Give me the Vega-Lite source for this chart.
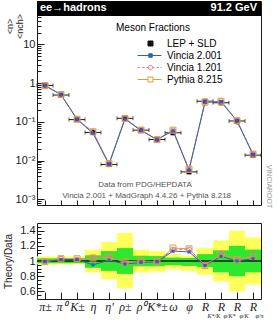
{
  "$schema": "https://vega.github.io/schema/vega-lite/v6.json",
  "padding": {"left": 2, "top": 0, "right": 0, "bottom": 0},
  "background": "white",
  "config": {
    "view": {"stroke": "#1a1a1a", "strokeWidth": 1},
    "font": "Liberation Sans",
    "axis": {"grid": false, "domain": false, "zindex": 1, "tickColor": "#1a1a1a", "tickWidth": 1, "labelColor": "#1a1a1a", "labelFont": "Liberation Sans", "titleFont": "Liberation Sans", "titleFontWeight": "normal", "titleColor": "#1a1a1a", "labelFlush": false, "labelOverlap": false}
  },
  "datasets": {
    "bins": [
      {"i": 1, "xlo": 0.5, "xhi": 1.5, "data": 0.87, "lo": 0.844, "hi": 0.9, "g_lo": 0.97, "g_hi": 1.035, "y_lo": 0.955, "y_hi": 1.06},
      {"i": 2, "xlo": 1.5, "xhi": 2.5, "data": 0.49, "lo": 0.475, "hi": 0.507, "g_lo": 0.97, "g_hi": 1.035, "y_lo": 0.955, "y_hi": 1.06},
      {"i": 3, "xlo": 2.5, "xhi": 3.5, "data": 0.114, "lo": 0.1106, "hi": 0.118, "g_lo": 0.97, "g_hi": 1.035, "y_lo": 0.955, "y_hi": 1.06},
      {"i": 4, "xlo": 3.5, "xhi": 4.5, "data": 0.053, "lo": 0.0482, "hi": 0.057, "g_lo": 0.91, "g_hi": 1.075, "y_lo": 0.85, "y_hi": 1.15},
      {"i": 5, "xlo": 4.5, "xhi": 5.5, "data": 0.0079, "lo": 0.00687, "hi": 0.00893, "g_lo": 0.87, "g_hi": 1.13, "y_lo": 0.76, "y_hi": 1.25},
      {"i": 6, "xlo": 5.5, "xhi": 6.5, "data": 0.123, "lo": 0.102, "hi": 0.144, "g_lo": 0.83, "g_hi": 1.17, "y_lo": 0.64, "y_hi": 1.37},
      {"i": 7, "xlo": 6.5, "xhi": 7.5, "data": 0.061, "lo": 0.0567, "hi": 0.0653, "g_lo": 0.93, "g_hi": 1.07, "y_lo": 0.85, "y_hi": 1.15},
      {"i": 8, "xlo": 7.5, "xhi": 8.5, "data": 0.035, "lo": 0.0326, "hi": 0.0373, "g_lo": 0.93, "g_hi": 1.065, "y_lo": 0.86, "y_hi": 1.13},
      {"i": 9, "xlo": 8.5, "xhi": 9.5, "data": 0.052, "lo": 0.0491, "hi": 0.0543, "g_lo": 0.945, "g_hi": 1.045, "y_lo": 0.89, "y_hi": 1.09},
      {"i": 10, "xlo": 9.5, "xhi": 10.5, "data": 0.0051, "lo": 0.00477, "hi": 0.0053, "g_lo": 0.935, "g_hi": 1.04, "y_lo": 0.87, "y_hi": 1.07},
      {"i": 11, "xlo": 10.5, "xhi": 11.5, "data": 0.34, "lo": 0.313, "hi": 0.371, "g_lo": 0.92, "g_hi": 1.09, "y_lo": 0.82, "y_hi": 1.17},
      {"i": 12, "xlo": 11.5, "xhi": 12.5, "data": 0.31, "lo": 0.264, "hi": 0.353, "g_lo": 0.85, "g_hi": 1.14, "y_lo": 0.73, "y_hi": 1.27},
      {"i": 13, "xlo": 12.5, "xhi": 13.5, "data": 0.105, "lo": 0.084, "hi": 0.126, "g_lo": 0.8, "g_hi": 1.2, "y_lo": 0.6, "y_hi": 1.4},
      {"i": 14, "xlo": 13.5, "xhi": 14.5, "data": 0.0138, "lo": 0.0117, "hi": 0.0159, "g_lo": 0.85, "g_hi": 1.15, "y_lo": 0.69, "y_hi": 1.31}
    ],
    "v2": [
      {"i": 1, "value": 0.861, "ratio": 0.99}, {"i": 2, "value": 0.5, "ratio": 1.02}, {"i": 3, "value": 0.116, "ratio": 1.02},
      {"i": 4, "value": 0.0504, "ratio": 0.95}, {"i": 5, "value": 0.00798, "ratio": 1.01}, {"i": 6, "value": 0.118, "ratio": 0.96},
      {"i": 7, "value": 0.0598, "ratio": 0.98}, {"i": 8, "value": 0.0347, "ratio": 0.99}, {"i": 9, "value": 0.0588, "ratio": 1.13},
      {"i": 10, "value": 0.00571, "ratio": 1.12}, {"i": 11, "value": 0.32, "ratio": 0.94}, {"i": 12, "value": 0.329, "ratio": 1.06},
      {"i": 13, "value": 0.105, "ratio": 1.0}, {"i": 14, "value": 0.0142, "ratio": 1.03}
    ],
    "v1": [
      {"i": 1, "value": 0.861, "ratio": 0.99}, {"i": 2, "value": 0.505, "ratio": 1.03}, {"i": 3, "value": 0.116, "ratio": 1.02},
      {"i": 4, "value": 0.0551, "ratio": 1.04}, {"i": 5, "value": 0.00837, "ratio": 1.06}, {"i": 6, "value": 0.121, "ratio": 0.98},
      {"i": 7, "value": 0.0604, "ratio": 0.99}, {"i": 8, "value": 0.0347, "ratio": 0.99}, {"i": 9, "value": 0.0598, "ratio": 1.15},
      {"i": 10, "value": 0.00587, "ratio": 1.15}, {"i": 11, "value": 0.323, "ratio": 0.95}, {"i": 12, "value": 0.341, "ratio": 1.1},
      {"i": 13, "value": 0.107, "ratio": 1.02}, {"i": 14, "value": 0.0148, "ratio": 1.07}
    ],
    "py": [
      {"i": 1, "value": 0.861, "ratio": 0.99}, {"i": 2, "value": 0.505, "ratio": 1.03}, {"i": 3, "value": 0.117, "ratio": 1.03},
      {"i": 4, "value": 0.0551, "ratio": 1.04}, {"i": 5, "value": 0.0083, "ratio": 1.05}, {"i": 6, "value": 0.122, "ratio": 0.99},
      {"i": 7, "value": 0.061, "ratio": 1.0}, {"i": 8, "value": 0.0347, "ratio": 0.99}, {"i": 9, "value": 0.0608, "ratio": 1.17},
      {"i": 10, "value": 0.00592, "ratio": 1.16}, {"i": 11, "value": 0.32, "ratio": 0.94}, {"i": 12, "value": 0.338, "ratio": 1.09},
      {"i": 13, "value": 0.107, "ratio": 1.02}, {"i": 14, "value": 0.0146, "ratio": 1.06}
    ]
  },
  "vconcat": [
    {
      "width": 224,
      "height": 204,
      "resolve": {"axis": {"x": "independent", "y": "independent"}},
      "layer": [
        {
          "data": {"values": [{"left": "ee→hadrons", "right": "91.2 GeV"}]},
          "mark": {"type": "rect", "color": "black"},
          "encoding": {
            "x": {"datum": 0.5, "type": "quantitative", "axis": null},
            "x2": {"datum": 14.5},
            "y": {"datum": 54, "type": "quantitative", "axis": null},
            "y2": {"datum": 131}
          }
        },
        {
          "data": {"values": [{"left": "ee→hadrons", "right": "91.2 GeV"}]},
          "mark": {"type": "text", "align": "left", "baseline": "middle", "dx": 3, "color": "white", "fontWeight": "bold", "fontSize": 11, "font": "Liberation Sans"},
          "encoding": {
            "text": {"field": "left"},
            "x": {"datum": 0.5, "type": "quantitative", "axis": null},
            "y": {"datum": 84, "type": "quantitative", "axis": null}
          }
        },
        {
          "data": {"values": [{"left": "ee→hadrons", "right": "91.2 GeV"}]},
          "mark": {"type": "text", "align": "right", "baseline": "middle", "dx": -4, "color": "white", "fontWeight": "bold", "fontSize": 11, "font": "Liberation Sans"},
          "encoding": {
            "text": {"field": "right"},
            "x": {"datum": 14.5, "type": "quantitative", "axis": null},
            "y": {"datum": 84, "type": "quantitative", "axis": null}
          }
        },
        {
          "data": {"values": [{"line1": "Data from PDG/HEPDATA", "line2": "Vincia 2.001 + MadGraph 4.4.26 + Pythia 8.218"}]},
          "mark": {"type": "text", "align": "center", "baseline": "middle", "color": "#555555", "fontSize": 8, "font": "Liberation Sans"},
          "encoding": {
            "text": {"field": "line1"},
            "x": {"datum": 7.25, "type": "quantitative", "axis": null},
            "y": {"datum": 0.00234, "type": "quantitative", "axis": null}
          }
        },
        {
          "data": {"values": [{"line1": "Data from PDG/HEPDATA", "line2": "Vincia 2.001 + MadGraph 4.4.26 + Pythia 8.218"}]},
          "mark": {"type": "text", "align": "center", "baseline": "middle", "color": "#555555", "fontSize": 8, "font": "Liberation Sans"},
          "encoding": {
            "text": {"field": "line2"},
            "x": {"datum": 7.35, "type": "quantitative", "axis": null},
            "y": {"datum": 0.00122, "type": "quantitative", "axis": null}
          }
        },
        {
          "data": {"name": "bins"},
          "mark": {"type": "rule", "color": "#1a1a1a", "strokeWidth": 1},
          "encoding": {
            "x": {"field": "xlo", "type": "quantitative", "axis": null},
            "x2": {"field": "xhi"},
            "y": {"field": "data", "type": "quantitative", "axis": null}
          }
        },
        {
          "data": {"name": "bins"},
          "mark": {"type": "tick", "orient": "vertical", "color": "#1a1a1a", "size": 4, "thickness": 1},
          "encoding": {
            "x": {"field": "xlo", "type": "quantitative", "axis": null},
            "y": {"field": "data", "type": "quantitative", "axis": null}
          }
        },
        {
          "data": {"name": "bins"},
          "mark": {"type": "tick", "orient": "vertical", "color": "#1a1a1a", "size": 4, "thickness": 1},
          "encoding": {
            "x": {"field": "xhi", "type": "quantitative", "axis": null},
            "y": {"field": "data", "type": "quantitative", "axis": null}
          }
        },
        {
          "data": {"name": "bins"},
          "mark": {"type": "rule", "color": "#1a1a1a", "strokeWidth": 1},
          "encoding": {
            "x": {"field": "i", "type": "quantitative", "axis": null},
            "y": {"field": "lo", "type": "quantitative", "axis": {"orient": "left", "values": [0.0008, 0.0009, 0.002, 0.003, 0.004, 0.005, 0.006, 0.007, 0.008, 0.009, 0.02, 0.03, 0.04, 0.05, 0.06, 0.07, 0.08, 0.09, 0.2, 0.3, 0.4, 0.5, 0.6, 0.7, 0.8, 0.9, 2, 3, 4, 5, 6, 7, 8, 9, 20, 30, 40, 50], "tickSize": -4, "labels": false, "title": null}},
            "y2": {"field": "hi"}
          }
        },
        {
          "data": {"name": "bins"},
          "mark": {"type": "point", "shape": "square", "filled": true, "color": "#111111", "size": 25, "opacity": 1},
          "encoding": {
            "x": {"field": "i", "type": "quantitative", "scale": {"domain": [0.5, 14.5], "nice": false, "zero": false},
              "axis": {"orient": "bottom", "values": [1, 2, 3, 4, 5, 6, 7, 8, 9, 10, 11, 12, 13, 14], "tickSize": -5, "labels": false, "title": null}},
            "y": {"field": "data", "type": "quantitative", "scale": {"type": "log", "domain": [0.000713, 131], "nice": false},
              "axis": {"orient": "left", "values": [0.001, 0.01, 0.1, 1, 10], "labelExpr": "datum.value > 5 ? '10' : datum.value > 0.5 ? '1' : datum.value > 0.05 ? '10⁻¹' : datum.value > 0.005 ? '10⁻²' : '10⁻³'", "tickSize": -7, "labelPadding": 9, "labelFontSize": 11, "labelBaseline": "middle",
                "title": ["<n>", "<nch>"], "titleFontSize": 9, "titleX": -28, "titleY": 25, "titleAngle": 270, "titleBaseline": "middle", "titleAlign": "center", "titleLineHeight": 10}}
          }
        },
        {
          "data": {"name": "py"},
          "mark": {"type": "line", "color": "#e0a030", "strokeWidth": 1},
          "encoding": {
            "x": {"field": "i", "type": "quantitative", "axis": null},
            "y": {"field": "value", "type": "quantitative", "axis": {"orient": "right", "ticks": false, "labels": false, "title": "VINCIAROOT", "titleAngle": 90, "titleFontSize": 7, "titleColor": "#999999", "titleX": 7, "titleY": 185, "titleBaseline": "middle", "titleAlign": "center"}}
          }
        },
        {
          "data": {"name": "v1"},
          "mark": {"type": "line", "color": "#e07aa0", "strokeWidth": 1, "strokeDash": [3, 2]},
          "encoding": {
            "x": {"field": "i", "type": "quantitative", "axis": null},
            "y": {"field": "value", "type": "quantitative", "axis": null}
          }
        },
        {
          "data": {"name": "v2"},
          "mark": {"type": "line", "color": "#3060c0", "strokeWidth": 1},
          "encoding": {
            "x": {"field": "i", "type": "quantitative", "axis": null},
            "y": {"field": "value", "type": "quantitative", "axis": null}
          }
        },
        {
          "data": {"name": "py"},
          "mark": {"type": "point", "shape": "square", "filled": false, "color": "#e0a030", "size": 36, "strokeWidth": 1, "opacity": 1},
          "encoding": {
            "x": {"field": "i", "type": "quantitative", "axis": null},
            "y": {"field": "value", "type": "quantitative", "axis": null}
          }
        },
        {
          "data": {"name": "v1"},
          "mark": {"type": "point", "shape": "circle", "filled": false, "color": "#e07aa0", "size": 25, "strokeWidth": 1, "opacity": 1},
          "encoding": {
            "x": {"field": "i", "type": "quantitative", "axis": null},
            "y": {"field": "value", "type": "quantitative", "axis": null}
          }
        },
        {
          "data": {"name": "v2"},
          "mark": {"type": "point", "shape": "square", "filled": true, "color": "#3060c0", "size": 10, "opacity": 1},
          "encoding": {
            "x": {"field": "i", "type": "quantitative", "axis": null},
            "y": {"field": "value", "type": "quantitative", "axis": null}
          }
        },
        {
          "data": {"values": [{"series": "LEP + SLD"}, {"series": "Vincia 2.001"}, {"series": "Vincia 1.201"}, {"series": "Pythia 8.215"}]},
          "mark": {"type": "point", "opacity": 0},
          "encoding": {
            "fill": {"field": "series", "type": "nominal",
              "scale": {"domain": ["LEP + SLD", "Vincia 2.001", "Vincia 1.201", "Pythia 8.215"], "range": ["#111111", "#3060c0", "#fde8f0", "#ffffff"]},
              "legend": {"title": "Meson Fractions", "orient": "none", "direction": "vertical", "legendX": 79, "legendY": 22, "padding": 0, "titleFontSize": 10, "titleFontWeight": "normal", "titleColor": "black", "titleFont": "Liberation Sans", "labelFont": "Liberation Sans", "labelFontSize": 10, "labelColor": "black", "symbolSize": 100, "symbolStrokeWidth": 1, "symbolOffset": 29, "labelOffset": 11, "titlePadding": 5, "rowPadding": 1, "symbolOpacity": 1}},
            "stroke": {"field": "series", "type": "nominal",
              "scale": {"domain": ["LEP + SLD", "Vincia 2.001", "Vincia 1.201", "Pythia 8.215"], "range": ["#111111", "#3060c0", "#e07aa0", "#e0a030"]},
              "legend": {"title": "Meson Fractions", "orient": "none", "direction": "vertical", "legendX": 79, "legendY": 22, "padding": 0, "titleFontSize": 10, "titleFontWeight": "normal", "titleColor": "black", "titleFont": "Liberation Sans", "labelFont": "Liberation Sans", "labelFontSize": 10, "labelColor": "black", "symbolSize": 100, "symbolStrokeWidth": 1, "symbolOffset": 29, "labelOffset": 11, "titlePadding": 5, "rowPadding": 1, "symbolOpacity": 1}},
            "shape": {"field": "series", "type": "nominal",
              "scale": {"domain": ["LEP + SLD", "Vincia 2.001", "Vincia 1.201", "Pythia 8.215"], "range": [
                "M-0.5,-0.5H0.5V0.5H-0.5Z",
                "M-2.6,0H2.2M-0.35,-0.35H0.35V0.35H-0.35Z",
                "M-2.6,0H-2.1M-1.7,0H-1.2M-0.8,0H-0.45M0.45,0H0.8M1.2,0H1.7M2,0H2.2M-0.45,0A0.45,0.45 0 1,1 0.45,0A0.45,0.45 0 1,1 -0.45,0Z",
                "M-2.6,0H-0.5M0.5,0H2.2M-0.5,-0.5H0.5V0.5H-0.5Z"]},
              "legend": {"title": "Meson Fractions", "orient": "none", "direction": "vertical", "legendX": 79, "legendY": 22, "padding": 0, "titleFontSize": 10, "titleFontWeight": "normal", "titleColor": "black", "titleFont": "Liberation Sans", "labelFont": "Liberation Sans", "labelFontSize": 10, "labelColor": "black", "symbolSize": 100, "symbolStrokeWidth": 1, "symbolOffset": 29, "labelOffset": 11, "titlePadding": 5, "rowPadding": 1, "symbolOpacity": 1}}
          }
        }
      ]
    },
    {
      "width": 224,
      "height": 76,
      "resolve": {"axis": {"x": "independent", "y": "independent"}},
      "layer": [
        {
          "data": {"name": "bins"},
          "mark": {"type": "rect", "color": "#ffff5c"},
          "encoding": {
            "x": {"field": "xlo", "type": "quantitative", "scale": {"domain": [0.5, 14.5], "nice": false, "zero": false},
              "axis": {"orient": "bottom", "values": [1, 2, 3, 4, 5, 6, 7, 8, 9, 10, 11, 12, 13, 14], "labelExpr": "datum.value == 1 ? 'π±' : datum.value == 2 ? 'π⁰' : datum.value == 3 ? 'K±' : datum.value == 4 ? 'η' : datum.value == 5 ? 'η′' : datum.value == 6 ? 'ρ±' : datum.value == 7 ? 'ρ⁰' : datum.value == 8 ? 'K*±' : datum.value == 9 ? 'ω' : datum.value == 10 ? 'φ' : 'R'", "tickSize": -7, "labelPadding": 9, "labelFont": "Liberation Serif", "labelFontStyle": "italic", "labelFontSize": 12, "labelBaseline": "top", "labelAngle": 0, "title": null}},
            "x2": {"field": "xhi"},
            "y": {"field": "y_lo", "type": "quantitative", "scale": {"domain": [0.5, 1.5], "nice": false, "zero": false},
              "axis": {"orient": "left", "values": [0.6, 0.8, 1, 1.2, 1.4], "format": "~g", "tickSize": -7, "labelPadding": 9, "labelFontSize": 11, "labelBaseline": "middle",
                "title": "Theory/Data", "titleFontSize": 10, "titleX": -29, "titleY": 38, "titleAngle": 270, "titleBaseline": "middle", "titleAlign": "center"}},
            "y2": {"field": "y_hi"}
          }
        },
        {
          "data": {"name": "bins"},
          "mark": {"type": "rect", "color": "#2ee82e"},
          "encoding": {
            "x": {"field": "xlo", "type": "quantitative", "axis": null},
            "x2": {"field": "xhi"},
            "y": {"field": "g_lo", "type": "quantitative",
              "axis": {"orient": "left", "values": [0.55, 0.65, 0.7, 0.75, 0.85, 0.9, 0.95, 1.05, 1.1, 1.15, 1.25, 1.3, 1.35, 1.45], "tickSize": -4, "labels": false, "title": null}},
            "y2": {"field": "g_hi"}
          }
        },
        {
          "data": {"values": [{"ref": 1}]},
          "mark": {"type": "rule", "color": "#1a1a1a", "strokeWidth": 1.5},
          "encoding": {
            "y": {"field": "ref", "type": "quantitative", "axis": null}
          }
        },
        {
          "data": {"name": "py"},
          "mark": {"type": "line", "color": "#e0a030", "strokeWidth": 1},
          "encoding": {
            "x": {"field": "i", "type": "quantitative",
              "axis": {"orient": "bottom", "values": [11, 12, 13, 14], "labelExpr": "datum.value == 11 ? 'K*/K' : datum.value == 12 ? 'φ/K*' : datum.value == 13 ? 'φ/K' : 'φ/π'", "ticks": false, "labelPadding": 13, "labelFont": "Liberation Serif", "labelFontStyle": "italic", "labelFontSize": 6, "labelAlign": "left", "labelOffset": 2, "labelBaseline": "top", "labelAngle": 0, "title": null}},
            "y": {"field": "ratio", "type": "quantitative", "axis": null}
          }
        },
        {
          "data": {"name": "v1"},
          "mark": {"type": "line", "color": "#e07aa0", "strokeWidth": 1, "strokeDash": [3, 2]},
          "encoding": {
            "x": {"field": "i", "type": "quantitative", "axis": null},
            "y": {"field": "ratio", "type": "quantitative", "axis": null}
          }
        },
        {
          "data": {"name": "v2"},
          "mark": {"type": "line", "color": "#3060c0", "strokeWidth": 1},
          "encoding": {
            "x": {"field": "i", "type": "quantitative", "axis": null},
            "y": {"field": "ratio", "type": "quantitative", "axis": null}
          }
        },
        {
          "data": {"name": "py"},
          "mark": {"type": "point", "shape": "square", "filled": false, "color": "#e0a030", "size": 36, "strokeWidth": 1, "opacity": 1},
          "encoding": {
            "x": {"field": "i", "type": "quantitative", "axis": null},
            "y": {"field": "ratio", "type": "quantitative", "axis": null}
          }
        },
        {
          "data": {"name": "v1"},
          "mark": {"type": "point", "shape": "circle", "filled": false, "color": "#e07aa0", "size": 25, "strokeWidth": 1, "opacity": 1},
          "encoding": {
            "x": {"field": "i", "type": "quantitative", "axis": null},
            "y": {"field": "ratio", "type": "quantitative", "axis": null}
          }
        },
        {
          "data": {"name": "v2"},
          "mark": {"type": "point", "shape": "square", "filled": true, "color": "#3060c0", "size": 10, "opacity": 1},
          "encoding": {
            "x": {"field": "i", "type": "quantitative", "axis": null},
            "y": {"field": "ratio", "type": "quantitative", "axis": null}
          }
        }
      ]
    }
  ],
  "spacing": 13
}
